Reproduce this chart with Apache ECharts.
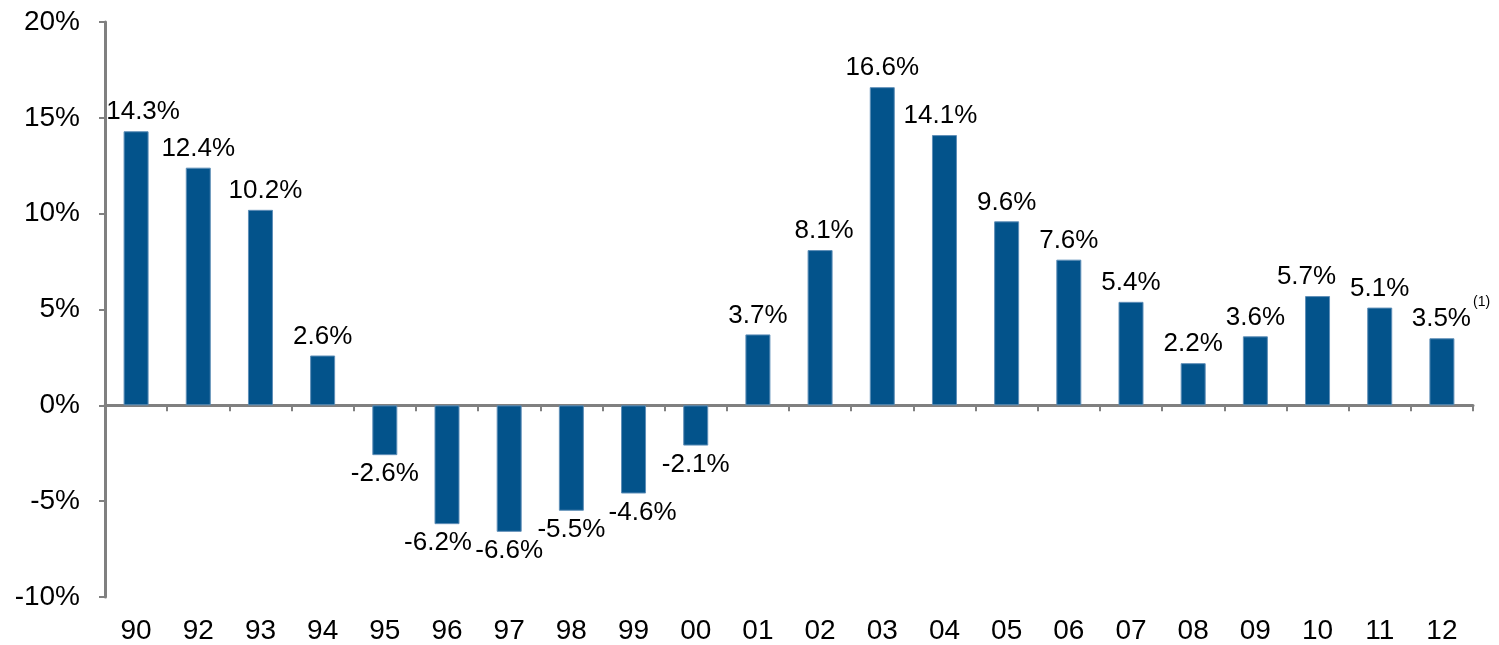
<!DOCTYPE html>
<html>
<head>
<meta charset="utf-8">
<script src="https://cdn.jsdelivr.net/npm/echarts@6/dist/echarts.min.js"></script>
<style>
  html, body { margin: 0; padding: 0; background: #fff; }
  #chart { width: 1499px; height: 645px; }
</style>
</head>
<body>
<div id="chart"></div>
<script>
// years on the x axis
var years = ['90', '92', '93', '94', '95', '96', '97', '98', '99', '00', '01',
             '02', '03', '04', '05', '06', '07', '08', '09', '10', '11', '12'];
// annual change, %
var growth = [14.3, 12.4, 10.2, 2.6, -2.6, -6.2, -6.6, -5.5, -4.6, -2.1, 3.7,
              8.1, 16.6, 14.1, 9.6, 7.6, 5.4, 2.2, 3.6, 5.7, 5.1, 3.5];
// footnote marks next to a value label
var notes = ['', '', '', '', '', '', '', '', '', '', '',
             '', '', '', '', '', '', '', '', '', '', '(1)'];
var yTicks = [-10, -5, 0, 5, 10, 15, 20];

var chart = echarts.init(document.getElementById('chart'));

var fontName = 'Liberation Sans, Arial, sans-serif';
var axisGrey = '#808080';

// small nudges so labels sit like in the original slide
var labelShift = { 0: [7, 0], 2: [5, 0], 5: [-9, 0], 8: [9, 0], 11: [4, 0],
                   13: [-4, 0], 19: [-11, 0], 21: [9, 0] };

var barData = [];
for (var i = 0; i < growth.length; i++) {
    barData.push({
        value: growth[i],
        label: {
            position: growth[i] < 0 ? 'bottom' : 'top',
            offset: labelShift[i] || [0, 0]
        }
    });
}

var option = {
    animation: false,
    grid: { left: 105, right: 26, top: 22, bottom: 48 },
    xAxis: [
        {
            type: 'category',
            data: years,
            axisLine: { onZero: true, lineStyle: { color: axisGrey, width: 3 } },
            axisTick: { show: true, length: 6, lineStyle: { color: axisGrey, width: 2 } },
            axisLabel: { show: false },
            splitLine: { show: false }
        },
        {
            type: 'category',
            data: years,
            position: 'bottom',
            axisLine: { show: false, onZero: false },
            axisTick: { show: false },
            axisLabel: { fontSize: 28, color: '#000', fontFamily: fontName, margin: 20 },
            splitLine: { show: false }
        }
    ],
    yAxis: {
        type: 'value',
        min: yTicks[0],
        max: yTicks[yTicks.length - 1],
        interval: 5,
        axisLine: { show: true, lineStyle: { color: axisGrey, width: 3 } },
        axisTick: { show: true, length: 6, lineStyle: { color: axisGrey, width: 2 } },
        axisLabel: {
            fontSize: 28, color: '#000', fontFamily: fontName, margin: 25,
            formatter: '{value}%'
        },
        splitLine: { show: false }
    },
    series: [
        {
            type: 'bar',
            xAxisIndex: 0,
            data: barData,
            barWidth: 25,
            itemStyle: { color: '#03538b', borderColor: '#5f8fb8', borderWidth: 1 },
            label: {
                show: true,
                distance: 5,
                color: '#000',
                fontFamily: fontName,
                formatter: function (p) {
                    var n = notes[p.dataIndex];
                    if (n) return '{w|' + p.value.toFixed(1) + '%}{s|' + n + '}';
                    return '{v|' + p.value.toFixed(1) + '%}';
                },
                rich: {
                    v: { fontSize: 26, lineHeight: 28, color: '#000', fontFamily: fontName },
                    w: { fontSize: 26, lineHeight: 28, height: 28, color: '#000', fontFamily: fontName,
                         verticalAlign: 'bottom' },
                    s: { fontSize: 14, lineHeight: 38, height: 14, color: '#000', fontFamily: fontName,
                         verticalAlign: 'top', padding: [0, 0, 0, 2] }
                }
            }
        }
    ]
};

chart.setOption(option);
window.addEventListener('resize', function () {
    chart.resize();
});
</script>
</body>
</html>
